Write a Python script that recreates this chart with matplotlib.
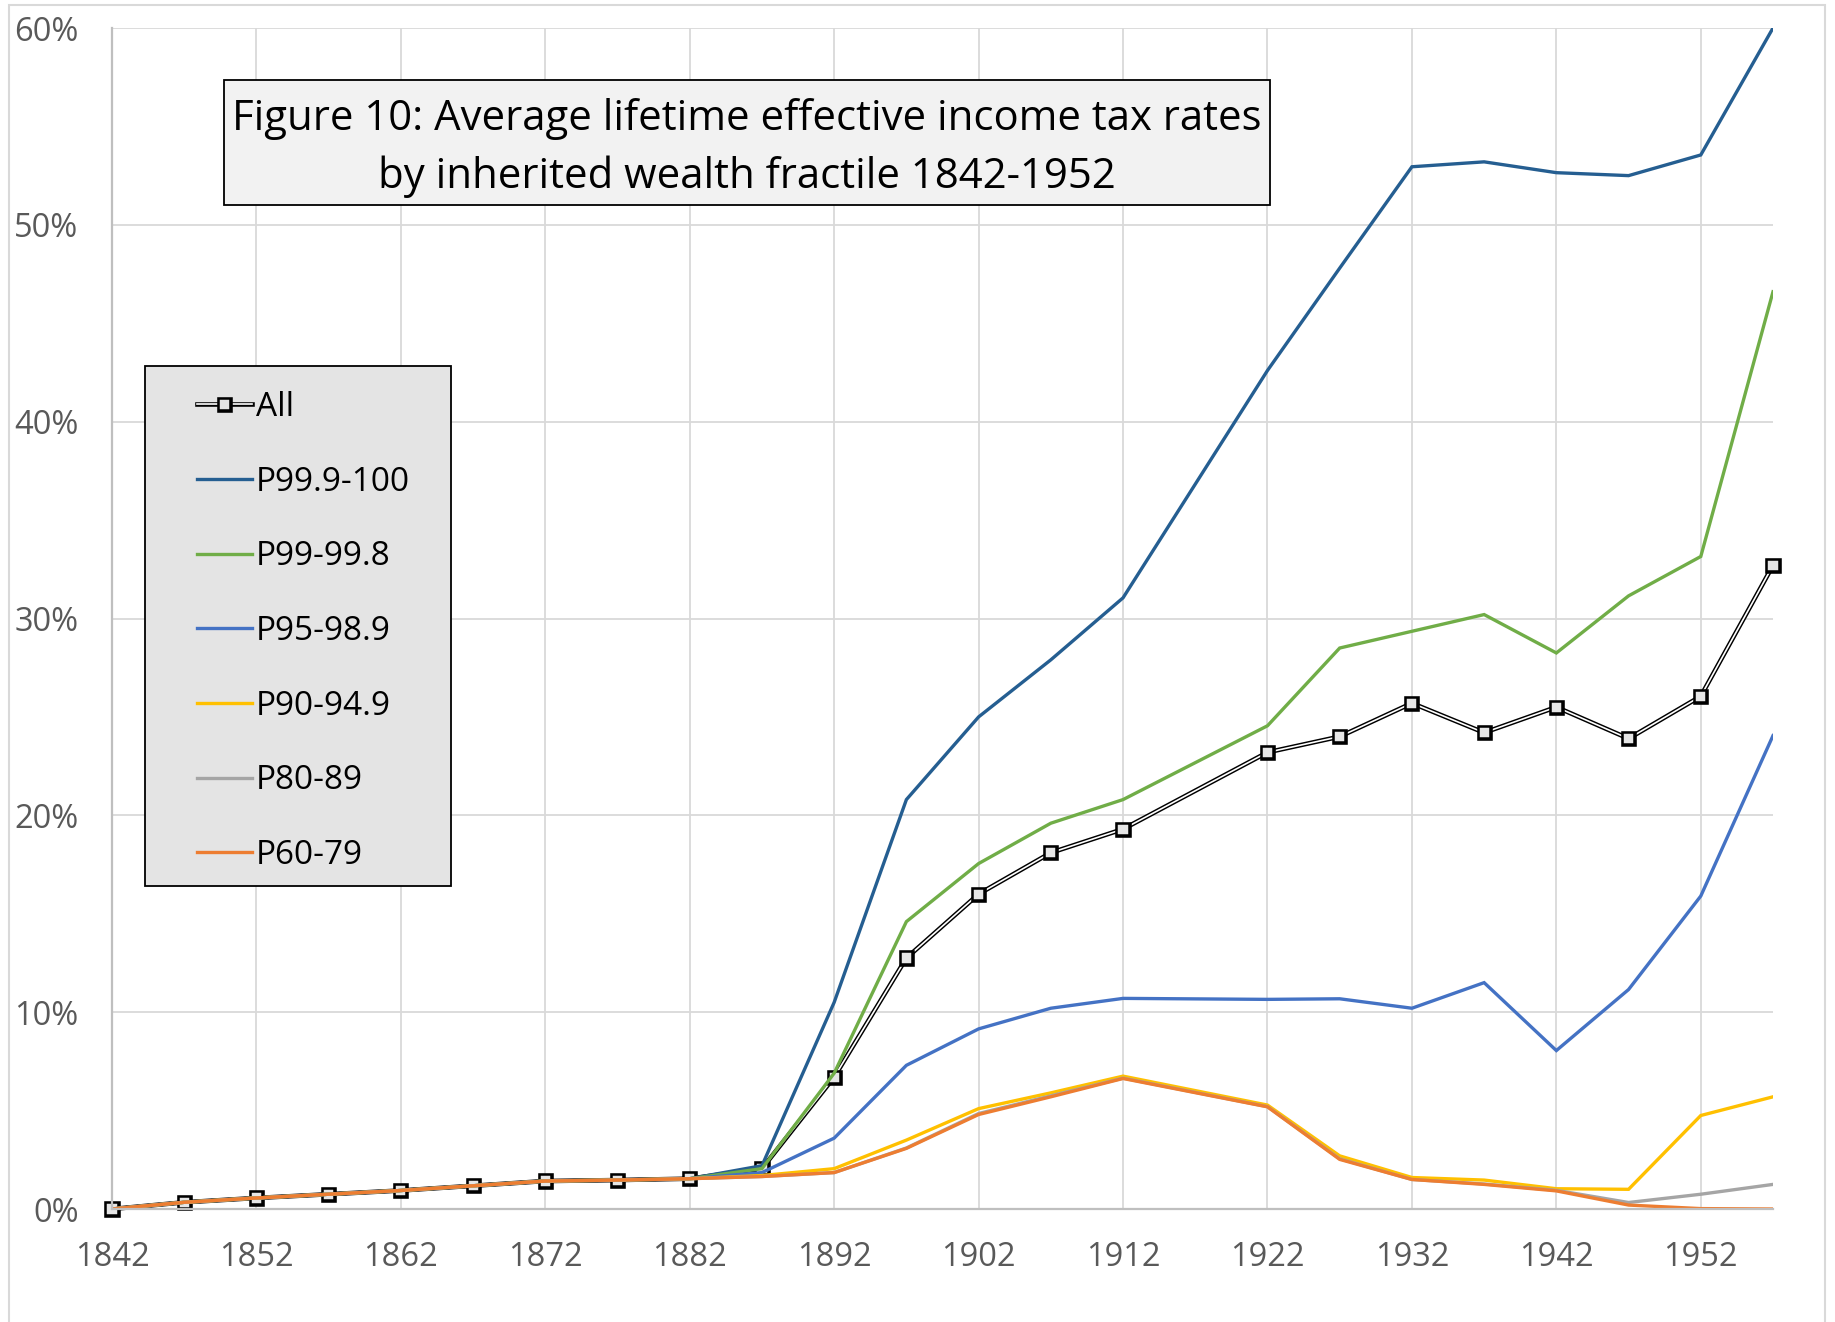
import matplotlib.pyplot as plt
import matplotlib.patheffects as pe
from matplotlib.patches import Rectangle

plt.rcParams['font.family'] = ['Open Sans', 'DejaVu Sans']

# data (1917 has no point, the lines run straight 1912 -> 1922)
years = [1842, 1847, 1852, 1857, 1862, 1867, 1872, 1877, 1882, 1887, 1892, 1897,
         1902, 1907, 1912, 1922, 1927, 1932, 1937, 1942, 1947, 1952, 1957]
early = [0.0, 0.34, 0.56, 0.75, 0.94, 1.18, 1.42, 1.47, 1.54]

all_rate = early + [2.05, 6.7, 12.75, 16.0, 18.1, 19.3, 23.2, 24.0, 25.7, 24.2, 25.5, 23.9, 26.05, 32.7]
p999_100 = early + [2.2, 10.5, 20.8, 25.0, 27.9, 31.05, 42.6, 47.8, 52.95, 53.2, 52.65, 52.5, 53.55, 60.0]
p99_998 = early + [2.05, 6.9, 14.6, 17.55, 19.6, 20.8, 24.55, 28.5, 29.35, 30.2, 28.25, 31.15, 33.15, 46.6]
p95_989 = early + [1.85, 3.6, 7.3, 9.15, 10.2, 10.7, 10.65, 10.68, 10.2, 11.5, 8.05, 11.15, 15.9, 24.05]
p90_949 = early + [1.7, 2.05, 3.5, 5.1, 5.9, 6.75, 5.28, 2.7, 1.6, 1.47, 1.03, 1.0, 4.75, 5.7]
p80_89 = early + [1.65, 1.85, 3.1, 4.85, 5.75, 6.65, 5.2, 2.55, 1.5, 1.27, 0.95, 0.33, 0.75, 1.25]
p60_79 = early + [1.65, 1.85, 3.08, 4.8, 5.7, 6.63, 5.19, 2.52, 1.5, 1.25, 0.92, 0.2, 0.02, 0.0]

series = [
    ("P99.9-100", p999_100, "#255E91"),
    ("P99-99.8", p99_998, "#70AD47"),
    ("P95-98.9", p95_989, "#4472C4"),
    ("P90-94.9", p90_949, "#FFC000"),
    ("P80-89", p80_89, "#A5A5A5"),
    ("P60-79", p60_79, "#ED7D31"),
]
xticks = list(range(1842, 1953, 10))
yticks = [0, 10, 20, 30, 40, 50, 60]
title = "Figure 10: Average lifetime effective income tax rates\nby inherited wealth fractile 1842-1952"

W, H = 1835, 1322
fig = plt.figure(figsize=(W / 100, H / 100), dpi=100)
ax = fig.add_axes([112 / W, 1 - 1209 / H, (1773 - 112) / W, (1209 - 28) / H])

ax.plot(years, all_rate, color="white", lw=1.2, marker="s", ms=8,
        mfc="#E6E6E6", mec="black", mew=1.1, clip_on=False, label="All",
        path_effects=[pe.Stroke(linewidth=3.3, foreground="black"), pe.Normal()])
for name, vals, col in series:
    ax.plot(years, vals, color=col, lw=2.4, label=name, solid_joinstyle="miter")

ax.set_xlim(1842, 1957)
ax.set_ylim(0, 60)
ax.set_xticks(xticks)
ax.set_yticks(yticks)
ax.set_yticklabels([f"{v}%" for v in yticks])
ax.tick_params(length=0, labelsize=23.5, labelcolor="#595959")
ax.tick_params(axis="x", pad=23)
ax.tick_params(axis="y", pad=24)
ax.grid(True, color="#D9D9D9", lw=1.3)
ax.set_axisbelow(True)
for s in ["top", "right"]:
    ax.spines[s].set_visible(False)
for s in ["left", "bottom"]:
    ax.spines[s].set_color("#BFBFBF")
    ax.spines[s].set_linewidth(1.6)

# outer chart border
fig.add_artist(Rectangle((9 / W, -0.05), (1825 - 9) / W, 1.05 - 5 / H,
                         transform=fig.transFigure, fill=False,
                         edgecolor="#D9D9D9", lw=1.5))

# title box
fig.add_artist(Rectangle((224 / W, 1 - 205 / H), (1270 - 224) / W, 125 / H,
                         transform=fig.transFigure, facecolor="#F2F2F2",
                         edgecolor="black", lw=1.3, zorder=2))
fig.text(747 / W, 1 - 148 / H, title, ha="center", va="center", fontsize=30.2,
         linespacing=1.48, multialignment="center", zorder=3)

# legend box
fig.add_artist(Rectangle((145 / W, 1 - 886 / H), 306 / W, 520 / H,
                         transform=fig.transFigure, facecolor="#E4E4E4",
                         edgecolor="black", lw=1.3, zorder=2))
handles, labels = ax.get_legend_handles_labels()
fig.legend(handles, labels, loc="upper left", bbox_to_anchor=(197 / W, 1 - 391 / H),
           frameon=False, fontsize=24, handlelength=1.65, handletextpad=0.12,
           labelspacing=1.25, borderpad=0, borderaxespad=0)

fig.savefig("out.png", dpi=100)
